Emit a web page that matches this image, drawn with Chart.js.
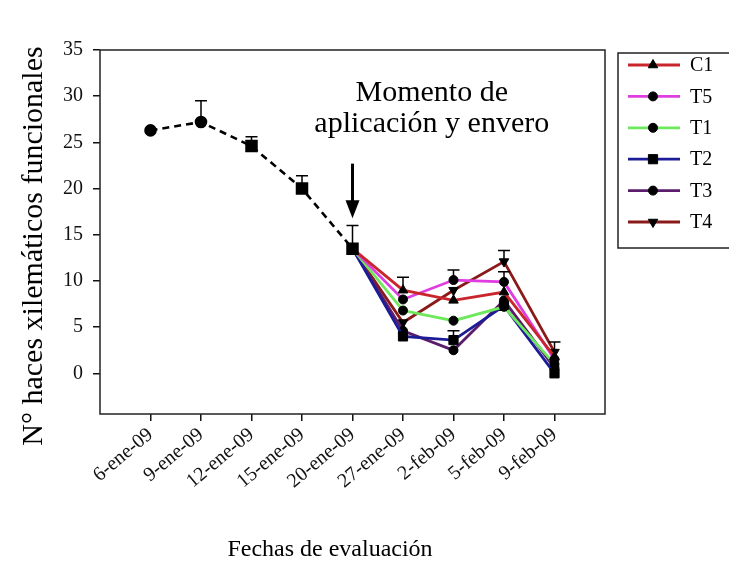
<!DOCTYPE html>
<html>
<head>
<meta charset="utf-8">
<script src="https://cdn.jsdelivr.net/npm/chart.js@4.4.0/dist/chart.umd.min.js"></script>
<style>
  body { margin: 0; background: #fff; }
  canvas { display: block; }
</style>
</head>
<body>
<canvas id="xylemChart" width="729" height="579"></canvas>
<script>
// evaluation dates
const dates = ['6-ene-09', '9-ene-09', '12-ene-09', '15-ene-09', '20-ene-09', '27-ene-09', '2-feb-09', '5-feb-09', '9-feb-09'];

// before application (all plants, dashed black line)
const baseValues = [26.3, 27.2, 24.6, 20.0, 13.5];
const baseErrors = [0, 2.3, 1.0, 1.4, 2.5];

// treatments, 27-ene-09 .. 9-feb-09
const c1Values = [9.0, 7.9, 8.8, 1.8];
const c1Errors = [1.4, 0, 0, 0];
const t5Values = [8.0, 10.1, 9.9, 1.5];
const t5Errors = [0, 1.1, 1.1, 0];
const t1Values = [6.8, 5.7, 7.2, 1.0];
const t1Errors = [0, 0, 0, 0];
const t2Values = [4.0, 3.6, 7.3, 0.0];
const t2Errors = [0, 1.0, 0, 0];
const t3Values = [4.6, 2.5, 7.9, 0.6];
const t3Errors = [0, 0, 0, 0];
const t4Values = [5.5, 9.0, 12.1, 2.3];
const t4Errors = [0, 0, 1.2, 1.1];

const yTicks = [0, 5, 10, 15, 20, 25, 30, 35];

// arrow + note position (data units)
const arrowX = 5;
const arrowTop = 22.7;
const arrowBottom = 16.8;
const noteX = 6.57;
const noteLines = ['Momento de', 'aplicación y envero'];

const serif = '"Liberation Serif", "Times New Roman", serif';

// base series points: x = 1..5
const basePoints = baseValues.map((v, i) => ({ x: i + 1, y: v }));

// treatment series start at the 20-ene-09 point
function treatment(values) {
    const pts = [{ x: 5, y: baseValues[4] }];
    values.forEach((v, i) => pts.push({ x: i + 6, y: v }));
    return pts;
}
function withLead(errors) {
    return [0].concat(errors);
}

function series(label, values, errors, color, style, rotation) {
    const r = style === 'rect' ? 6.5 : (style === 'triangle' ? 5.5 : 4.5);
    return {
        label: label,
        data: treatment(values),
        errors: withLead(errors),
        borderColor: color,
        borderWidth: 2.8,
        pointStyle: style,
        rotation: rotation || 0,
        pointRadius: [0, r, r, r, r],
        legendRadius: r,
        pointBackgroundColor: '#000',
        pointBorderColor: '#000',
        pointBorderWidth: 1,
        tension: 0
    };
}

const datasets = [
    {
        label: 'base',
        data: basePoints,
        errors: baseErrors,
        borderColor: '#000',
        borderWidth: 2.6,
        borderDash: [7, 5],
        pointStyle: ['circle', 'circle', 'rect', 'rect', 'rect'],
        pointRadius: [5, 5, 7, 7, 7],
        pointBackgroundColor: '#000',
        pointBorderColor: '#000',
        legend: false
    },
    series('C1', c1Values, c1Errors, '#c8262c', 'triangle'),
    series('T5', t5Values, t5Errors, '#e03ce0', 'circle'),
    series('T1', t1Values, t1Errors, '#6ee85c', 'circle'),
    series('T2', t2Values, t2Errors, '#1c1c96', 'rect'),
    series('T3', t3Values, t3Errors, '#5c1c6c', 'circle'),
    series('T4', t4Values, t4Errors, '#8a1a1a', 'triangle', 180)
];

const figurePlugin = {
    id: 'figure',
    beforeDraw(chart) {
        const ctx = chart.ctx;
        ctx.save();
        ctx.fillStyle = '#fff';
        ctx.fillRect(0, 0, chart.width, chart.height);
        ctx.restore();
    },
    afterDatasetsDraw(chart) {
        const ctx = chart.ctx;
        const xs = chart.scales.x;
        const ys = chart.scales.y;
        const area = chart.chartArea;
        ctx.save();

        // error bars (upper only)
        ctx.strokeStyle = '#000';
        ctx.lineWidth = 1.5;
        chart.data.datasets.forEach(ds => {
            ds.data.forEach((p, i) => {
                const err = ds.errors[i];
                if (!err) return;
                const px = xs.getPixelForValue(p.x);
                const y0 = ys.getPixelForValue(p.y);
                const y1 = ys.getPixelForValue(p.y + err);
                ctx.beginPath();
                ctx.moveTo(px, y0);
                ctx.lineTo(px, y1);
                ctx.moveTo(px - 6, y1);
                ctx.lineTo(px + 6, y1);
                ctx.stroke();
            });
        });

        // frame
        ctx.strokeStyle = '#222';
        ctx.lineWidth = 1.5;
        ctx.strokeRect(area.left, area.top, area.right - area.left, area.bottom - area.top);

        // arrow
        const ax = xs.getPixelForValue(arrowX);
        const at = ys.getPixelForValue(arrowTop);
        const ab = ys.getPixelForValue(arrowBottom);
        ctx.fillStyle = '#000';
        ctx.lineWidth = 3;
        ctx.strokeStyle = '#000';
        ctx.beginPath();
        ctx.moveTo(ax, at);
        ctx.lineTo(ax, ab - 14);
        ctx.stroke();
        ctx.beginPath();
        ctx.moveTo(ax - 7, ab - 18);
        ctx.lineTo(ax + 7, ab - 18);
        ctx.lineTo(ax, ab);
        ctx.closePath();
        ctx.fill();

        // note
        ctx.font = '30px ' + serif;
        ctx.textAlign = 'center';
        ctx.textBaseline = 'alphabetic';
        const nx = xs.getPixelForValue(noteX);
        ctx.fillText(noteLines[0], nx, 101);
        ctx.fillText(noteLines[1], nx, 132);

        // axis titles
        ctx.font = '24px ' + serif;
        ctx.fillText('Fechas de evaluación', 330, 556);
        ctx.save();
        ctx.translate(42, 246);
        ctx.rotate(-Math.PI / 2);
        ctx.font = '30px ' + serif;
        ctx.fillText('N° haces xilemáticos funcionales', 0, 0);
        ctx.restore();

        // legend
        const lx = 618, ly = 53, lw = 130, lh = 195;
        ctx.lineWidth = 1.5;
        ctx.strokeStyle = '#222';
        ctx.strokeRect(lx, ly, lw, lh);
        ctx.font = '20px ' + serif;
        ctx.textAlign = 'left';
        ctx.textBaseline = 'middle';
        chart.data.datasets.filter(ds => ds.legend !== false).forEach((ds, i) => {
            const ry = 65 + i * 31.4;
            ctx.strokeStyle = ds.borderColor;
            ctx.lineWidth = 2.8;
            ctx.beginPath();
            ctx.moveTo(628, ry);
            ctx.lineTo(680, ry);
            ctx.stroke();
            ctx.fillStyle = '#000';
            ctx.strokeStyle = '#000';
            ctx.lineWidth = 1;
            Chart.helpers.drawPoint(ctx, { pointStyle: ds.pointStyle, radius: ds.legendRadius, rotation: ds.rotation, borderWidth: 1 }, 653, ry);
            ctx.fillStyle = '#000';
            ctx.fillText(ds.label, 690, ry + 1);
        });
        ctx.restore();
    }
};

new Chart(document.getElementById('xylemChart'), {
    type: 'line',
    data: { datasets: datasets },
    options: {
        responsive: false,
        animation: false,
        devicePixelRatio: 1,
        layout: { padding: { top: 50, right: 124, left: 0, bottom: 0 } },
        plugins: {
            legend: { display: false },
            tooltip: { enabled: false }
        },
        scales: {
            x: {
                type: 'linear',
                min: 0,
                max: 10,
                afterBuildTicks: s => { s.ticks = dates.map((d, i) => ({ value: i + 1 })); },
                afterFit: s => { s.height = 165; },
                ticks: {
                    autoSkip: false,
                    minRotation: 40,
                    maxRotation: 40,
                    padding: 2,
                    color: '#111',
                    font: { family: serif, size: 20 },
                    callback: v => dates[v - 1] || ''
                },
                grid: { drawOnChartArea: false, color: '#111', tickLength: 7, lineWidth: 1.5 },
                border: { display: false }
            },
            y: {
                min: -4.4,
                max: 35,
                afterBuildTicks: s => { s.ticks = yTicks.map(v => ({ value: v })); },
                afterFit: s => { s.width = 100; },
                ticks: {
                    padding: 10,
                    color: '#111',
                    font: { family: serif, size: 20 }
                },
                grid: { drawOnChartArea: false, color: '#111', tickLength: 7, lineWidth: 1.5 },
                border: { display: false }
            }
        }
    },
    plugins: [figurePlugin]
});
</script>
</body>
</html>
